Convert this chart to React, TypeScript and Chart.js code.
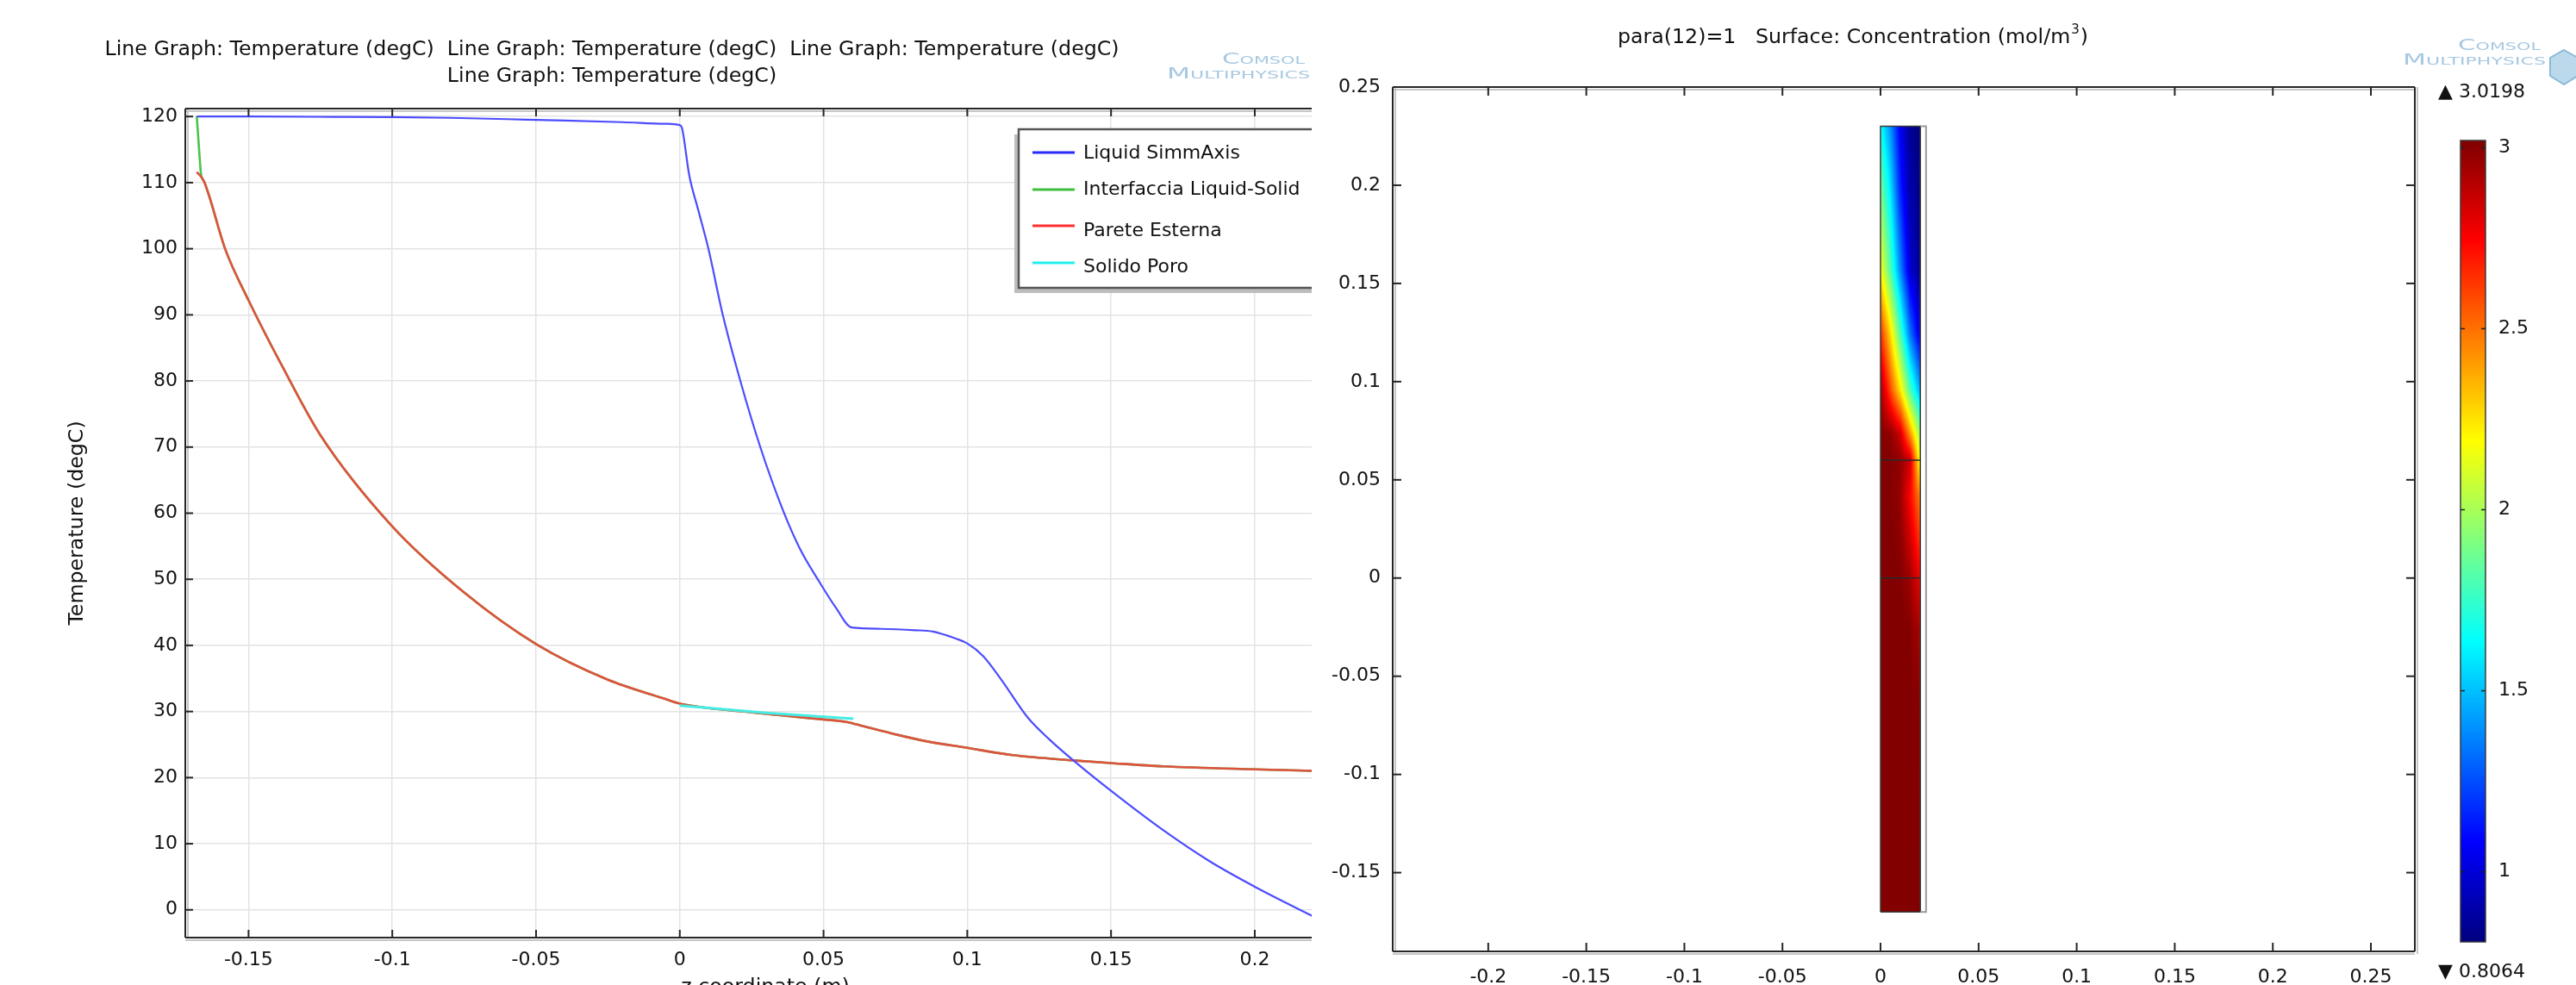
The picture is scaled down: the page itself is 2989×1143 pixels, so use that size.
import React, { useEffect, useRef } from "react";
import { Chart, registerables } from "chart.js";
Chart.register(...registerables);

const FONT = "'DejaVu Sans', 'Liberation Sans', Arial, sans-serif";
const W = 2989;
const H = 1143;
const LEFT_W = 1522;
const RIGHT_W = W - LEFT_W;

// ---------------- Left panel: temperature line graph ----------------
const leftTitleLine1 =
  "Line Graph: Temperature (degC)  Line Graph: Temperature (degC)  Line Graph: Temperature (degC)";
const leftTitleLine2 = "Line Graph: Temperature (degC)";
const leftXAxisTitle = "z coordinate (m)";
const leftYAxisTitle = "Temperature (degC)";
const leftXTicks = [-0.15, -0.1, -0.05, 0, 0.05, 0.1, 0.15, 0.2];
const leftYTicks = [0, 10, 20, 30, 40, 50, 60, 70, 80, 90, 100, 110, 120];

const seriesNames = ["Liquid SimmAxis", "Interfaccia Liquid-Solid", "Parete Esterna", "Solido Poro"];
const legendColors = ["#2a2aff", "#3fbf3f", "#ff2e2e", "#22eeee"];
const lineColors = ["rgb(76,76,255)", "rgb(74,196,74)", "rgb(224,82,62)", "rgb(70,236,228)"];
const drawOrder = [0, 3, 2, 1];

const liquidZ = [-0.168, -0.15, -0.12, -0.1, -0.08, -0.06, -0.04, -0.02, -0.005, 0.0, 0.0008, 0.0033, 0.0064,
  0.0099, 0.0149, 0.021, 0.028, 0.0361, 0.0417, 0.0487, 0.0543, 0.0598, 0.07, 0.082, 0.088, 0.0929, 0.0962, 0.1,
  0.1055, 0.1117, 0.1212, 0.1285, 0.1369, 0.15, 0.1683, 0.1841, 0.2, 0.2222];
const liquidT = [120.0, 120.0, 119.95, 119.9, 119.8, 119.6, 119.4, 119.15, 118.9, 118.7, 118.2, 111.1, 105.9,
  100.1, 90.1, 80.1, 70.0, 60.2, 54.7, 49.5, 45.7, 42.7, 42.5, 42.3, 42.1, 41.5, 41.0, 40.3,
  38.4, 34.9, 29.0, 25.8, 22.6, 18.0, 12.0, 7.4, 3.5, -1.4];

const interfaceZ = [-0.168, -0.1672, -0.1665, -0.1655, -0.158, -0.15, -0.138, -0.125, -0.1, -0.075, -0.05, -0.025,
  -0.0058, 0.0, 0.0247, 0.05, 0.0583, 0.0636, 0.0736, 0.0845, 0.1, 0.1159, 0.1369, 0.15, 0.1683, 0.2, 0.2222];
const interfaceT = [120.0, 115.0, 111.2, 110.2, 99.8, 92.2, 82.0, 71.8, 58.0, 48.0, 40.2, 34.8,
  32.0, 31.2, 29.9, 28.8, 28.4, 27.8, 26.7, 25.6, 24.5, 23.4, 22.6, 22.2, 21.7, 21.25, 21.0];

const wallZ = [-0.168, -0.1655, -0.158, -0.15, -0.138, -0.125, -0.1, -0.075, -0.05, -0.025, -0.0058, 0.0, 0.0247,
  0.05, 0.0583, 0.0636, 0.0736, 0.0845, 0.1, 0.1159, 0.1369, 0.15, 0.1683, 0.2, 0.2222];
const wallT = [111.6, 110.2, 99.8, 92.2, 82.0, 71.8, 58.0, 48.0, 40.2, 34.8, 32.0, 31.2, 29.9,
  28.8, 28.4, 27.8, 26.7, 25.6, 24.5, 23.4, 22.6, 22.2, 21.7, 21.25, 21.0];

const poreZ = [0.0, 0.03, 0.0604];
const poreT = [30.9, 29.8, 28.9];

// ---------------- Right panel: concentration surface ----------------
const rightTitleMain = "para(12)=1   Surface: Concentration (mol/m";
const rightTitleSup = "3";
const rightTitleEnd = ")";
const rightXTicks = [-0.2, -0.15, -0.1, -0.05, 0, 0.05, 0.1, 0.15, 0.2, 0.25];
const rightYTicks = [-0.15, -0.1, -0.05, 0, 0.05, 0.1, 0.15, 0.2, 0.25];

const fieldR = [0, 0.005, 0.01, 0.015, 0.0203];
const fieldZ = [0.23, 0.1978, 0.1568, 0.1246, 0.0954, 0.0734, 0.0602, 0.0416, 0.0, -0.0256, -0.06, -0.17];
const concentration = [
  [1.66, 1.4, 1.06, 0.85, 0.81],
  [1.9, 1.59, 1.16, 0.9, 0.82],
  [2.19, 1.82, 1.39, 0.99, 0.84],
  [2.65, 2.27, 1.81, 1.34, 1.0],
  [2.95, 2.6, 2.26, 1.82, 1.45],
  [3.01, 2.99, 2.85, 2.43, 1.95],
  [3.015, 3.01, 2.98, 2.85, 2.12],
  [3.015, 3.015, 2.97, 2.74, 2.46],
  [3.015, 3.015, 3.015, 2.95, 2.76],
  [3.015, 3.015, 3.015, 3.01, 2.92],
  [3.015, 3.015, 3.015, 3.015, 3.0],
  [3.015, 3.015, 3.015, 3.015, 3.015],
];
const colorMin = 0.8064;
const colorMax = 3.0198;
const colorbarTicks = [1, 1.5, 2, 2.5, 3];

const domainR = [0, 0.0203, 0.0203, 0, 0];
const domainZ = [-0.17, -0.17, 0.23, 0.23, -0.17];
const wallStripR = [0.0203, 0.0232, 0.0232, 0.0203];
const wallStripZ = [-0.17, -0.17, 0.23, 0.23];
const boundaryZ = [0.06, 0];
const boundaryR = [0, 0.0203];

// ---------------- helpers ----------------
const zip = (xs: number[], ys: number[]) => xs.map((x, i) => ({ x, y: ys[i] }));
const fmt = (v: number) => String(parseFloat(Number(v).toFixed(3)));
const clamp01 = (t: number) => (t < 0 ? 0 : t > 1 ? 1 : t);

function jet(v: number) {
  const t = clamp01((v - colorMin) / (colorMax - colorMin));
  const r = clamp01(1.5 - Math.abs(4 * t - 3));
  const g = clamp01(1.5 - Math.abs(4 * t - 2));
  const b = clamp01(1.5 - Math.abs(4 * t - 1));
  return [Math.round(r * 255), Math.round(g * 255), Math.round(b * 255)];
}

function sampleField(r: number, z: number) {
  let i = 0;
  while (i < fieldR.length - 2 && r > fieldR[i + 1]) i++;
  let j = 0;
  while (j < fieldZ.length - 2 && z < fieldZ[j + 1]) j++;
  const tr = clamp01((r - fieldR[i]) / (fieldR[i + 1] - fieldR[i]));
  const tz = clamp01((fieldZ[j] - z) / (fieldZ[j] - fieldZ[j + 1]));
  const a = concentration[j][i];
  const b = concentration[j][i + 1];
  const c = concentration[j + 1][i];
  const d = concentration[j + 1][i + 1];
  return (a * (1 - tr) + b * tr) * (1 - tz) + (c * (1 - tr) + d * tr) * tz;
}

function seg(ctx: CanvasRenderingContext2D, x1: number, y1: number, x2: number, y2: number) {
  ctx.beginPath();
  ctx.moveTo(x1, y1);
  ctx.lineTo(x2, y2);
  ctx.stroke();
}

function stretchedRight(ctx: CanvasRenderingContext2D, text: string, right: number, y: number, targetW: number) {
  const w = ctx.measureText(text).width;
  const s = targetW / w;
  ctx.save();
  ctx.translate(right - targetW, y);
  ctx.scale(s, 1);
  ctx.textAlign = "left";
  ctx.fillText(text, 0, 0);
  ctx.restore();
}

function drawLogo(ctx: CanvasRenderingContext2D, right: number, y1: number, y2: number) {
  ctx.save();
  ctx.fillStyle = "#a6c8e1";
  ctx.font = `small-caps 17px ${FONT}`;
  ctx.textBaseline = "middle";
  stretchedRight(ctx, "Comsol", right - 6, y1, 96);
  stretchedRight(ctx, "Multiphysics", right, y2, 166);
  ctx.restore();
}

function drawFrame(ctx: CanvasRenderingContext2D, ca: any, withRight: boolean) {
  ctx.save();
  ctx.lineWidth = 2;
  ctx.strokeStyle = "#c6c6c6";
  seg(ctx, ca.left, ca.top + 3, ca.right, ca.top + 3);
  seg(ctx, ca.left, ca.bottom + 3, ca.right, ca.bottom + 3);
  seg(ctx, ca.left + 3, ca.top, ca.left + 3, ca.bottom);
  if (withRight) seg(ctx, ca.right + 3, ca.top, ca.right + 3, ca.bottom + 3);
  ctx.strokeStyle = "#262626";
  seg(ctx, ca.left, ca.top, ca.right, ca.top);
  seg(ctx, ca.left, ca.bottom, ca.right, ca.bottom);
  seg(ctx, ca.left, ca.top, ca.left, ca.bottom);
  if (withRight) seg(ctx, ca.right, ca.top, ca.right, ca.bottom);
  ctx.restore();
}

function drawInwardTicks(chart: any, len: number, withRight: boolean) {
  const ctx = chart.ctx;
  const ca = chart.chartArea;
  const xs = chart.scales.x;
  const ys = chart.scales.y;
  ctx.save();
  ctx.lineWidth = 2;
  ctx.strokeStyle = "#262626";
  xs.ticks.forEach((t: any) => {
    const p = xs.getPixelForValue(t.value);
    seg(ctx, p, ca.bottom, p, ca.bottom - len);
    seg(ctx, p, ca.top, p, ca.top + len);
  });
  ys.ticks.forEach((t: any) => {
    const p = ys.getPixelForValue(t.value);
    seg(ctx, ca.left, p, ca.left + len, p);
    if (withRight) seg(ctx, ca.right, p, ca.right - len, p);
  });
  ctx.restore();
}

// ---------------- Left chart ----------------
const legendSwatchY = [177, 220, 262, 305];
const legendTextY = [178, 220, 268, 310];

const leftDecor = {
  id: "leftDecor",
  afterDraw(chart: any) {
    const ctx: CanvasRenderingContext2D = chart.ctx;
    const ca = chart.chartArea;
    drawFrame(ctx, ca, false);
    drawInwardTicks(chart, 9, false);

    ctx.save();
    ctx.fillStyle = "#111";
    ctx.font = `23.7px ${FONT}`;
    ctx.textAlign = "center";
    ctx.textBaseline = "middle";
    ctx.fillText(leftTitleLine1, 710, 58);
    ctx.fillText(leftTitleLine2, 710, 89);
    ctx.save();
    ctx.translate(90, 607);
    ctx.rotate(-Math.PI / 2);
    ctx.fillText(leftYAxisTitle, 0, 0);
    ctx.restore();
    ctx.textBaseline = "alphabetic";
    ctx.fillText(leftXAxisTitle, 888, 1152);

    // legend
    const x0 = 1182, y0 = 150, x1 = 1700, y1 = 334;
    ctx.fillStyle = "#bdbdbd";
    ctx.fillRect(x0 - 5, y0 + 6, x1 - x0, y1 - y0);
    ctx.fillStyle = "#ffffff";
    ctx.fillRect(x0, y0, x1 - x0, y1 - y0);
    ctx.lineWidth = 2.5;
    ctx.strokeStyle = "#555";
    ctx.strokeRect(x0, y0, x1 - x0, y1 - y0);
    ctx.font = `22px ${FONT}`;
    ctx.textAlign = "left";
    ctx.textBaseline = "middle";
    seriesNames.forEach((name, i) => {
      ctx.strokeStyle = legendColors[i];
      ctx.lineWidth = 3;
      seg(ctx, 1198, legendSwatchY[i], 1247, legendSwatchY[i]);
      ctx.fillStyle = "#111";
      ctx.fillText(name, 1257, legendTextY[i]);
    });
    ctx.restore();
    drawLogo(ctx, 1520, 70, 87);
  },
};

function leftConfig() {
  const sets = [zip(liquidZ, liquidT), zip(interfaceZ, interfaceT), zip(wallZ, wallT), zip(poreZ, poreT)];
  const widths = [2.2, 2.6, 2.6, 3];
  return {
    type: "scatter",
    data: {
      datasets: seriesNames.map((label, i) => ({
        label,
        data: sets[i],
        showLine: true,
        borderColor: lineColors[i],
        backgroundColor: lineColors[i],
        borderWidth: widths[i],
        pointRadius: 0,
        cubicInterpolationMode: "monotone",
        order: drawOrder[i],
      })),
    },
    options: {
      animation: false,
      responsive: false,
      events: [],
      layout: { padding: { top: 126, left: 0, right: 0, bottom: 0 } },
      plugins: { legend: { display: false }, tooltip: { enabled: false }, title: { display: false } },
      scales: {
        x: {
          type: "linear",
          position: "bottom",
          min: -0.172,
          max: 0.2198,
          afterBuildTicks: (s: any) => {
            s.ticks = leftXTicks.map((v) => ({ value: v }));
          },
          afterFit: (s: any) => {
            s.height = H - 1088;
          },
          grid: { color: "#e3e3e3", lineWidth: 1.5, drawTicks: false },
          border: { display: false },
          ticks: {
            padding: 13,
            color: "#111",
            font: { family: FONT, size: 22 },
            maxRotation: 0,
            autoSkip: false,
            callback: (v: number) => fmt(v),
          },
        },
        y: {
          type: "linear",
          position: "left",
          min: -4.2,
          max: 121.2,
          afterBuildTicks: (s: any) => {
            s.ticks = leftYTicks.map((v) => ({ value: v }));
          },
          afterFit: (s: any) => {
            s.width = 215;
          },
          grid: { color: "#e3e3e3", lineWidth: 1.5, drawTicks: false },
          border: { display: false },
          ticks: {
            padding: 9,
            color: "#111",
            font: { family: FONT, size: 22 },
            autoSkip: false,
            callback: (v: number) => fmt(v),
          },
        },
      },
    },
    plugins: [leftDecor],
  };
}

// ---------------- Right chart ----------------
const CB_LEFT = 2855 - LEFT_W;
const CB_RIGHT = 2884 - LEFT_W;
const CB_TOP = 163;
const CB_BOTTOM = 1093;
const cbPixel = (v: number) => CB_TOP + ((colorMax - v) / (colorMax - colorMin)) * (CB_BOTTOM - CB_TOP);

const rightDecor = {
  id: "rightDecor",
  beforeDatasetsDraw(chart: any) {
    const ctx: CanvasRenderingContext2D = chart.ctx;
    const xs = chart.scales.x;
    const ys = chart.scales.y;
    const px0 = Math.round(xs.getPixelForValue(fieldR[0]));
    const px1 = Math.round(xs.getPixelForValue(fieldR[fieldR.length - 1]));
    const py0 = Math.round(ys.getPixelForValue(fieldZ[0]));
    const py1 = Math.round(ys.getPixelForValue(fieldZ[fieldZ.length - 1]));
    const w = px1 - px0;
    const h = py1 - py0;
    if (w <= 0 || h <= 0) return;
    const img = ctx.createImageData(w, h);
    for (let j = 0; j < h; j++) {
      const z = ys.getValueForPixel(py0 + j + 0.5);
      for (let i = 0; i < w; i++) {
        const r = xs.getValueForPixel(px0 + i + 0.5);
        const [cr, cg, cb] = jet(sampleField(r, z));
        const k = (j * w + i) * 4;
        img.data[k] = cr;
        img.data[k + 1] = cg;
        img.data[k + 2] = cb;
        img.data[k + 3] = 255;
      }
    }
    ctx.putImageData(img, px0, py0);
  },
  afterDraw(chart: any) {
    const ctx: CanvasRenderingContext2D = chart.ctx;
    const ca = chart.chartArea;
    drawFrame(ctx, ca, true);
    drawInwardTicks(chart, 10, true);

    ctx.save();
    ctx.fillStyle = "#111";
    ctx.font = `23.7px ${FONT}`;
    ctx.textAlign = "left";
    ctx.textBaseline = "middle";
    let x = 1877 - LEFT_W;
    ctx.fillText(rightTitleMain, x, 44);
    x += ctx.measureText(rightTitleMain).width;
    ctx.font = `15px ${FONT}`;
    ctx.fillText(rightTitleSup, x + 1, 35);
    x += ctx.measureText(rightTitleSup).width + 2;
    ctx.font = `23.7px ${FONT}`;
    ctx.fillText(rightTitleEnd, x, 44);

    // colorbar
    for (let p = CB_TOP; p < CB_BOTTOM; p++) {
      const v = colorMax - ((p + 0.5 - CB_TOP) / (CB_BOTTOM - CB_TOP)) * (colorMax - colorMin);
      const [r, g, b] = jet(v);
      ctx.fillStyle = `rgb(${r},${g},${b})`;
      ctx.fillRect(CB_LEFT, p, CB_RIGHT - CB_LEFT, 1);
    }
    ctx.lineWidth = 1.5;
    ctx.strokeStyle = "#3a3a3a";
    ctx.strokeRect(CB_LEFT, CB_TOP, CB_RIGHT - CB_LEFT, CB_BOTTOM - CB_TOP);
    ctx.font = `22px ${FONT}`;
    ctx.fillStyle = "#111";
    ctx.textBaseline = "middle";
    colorbarTicks.forEach((v) => {
      const p = cbPixel(v);
      ctx.strokeStyle = "#222";
      ctx.lineWidth = 1.5;
      seg(ctx, CB_LEFT, p, CB_LEFT + 5, p);
      seg(ctx, CB_RIGHT, p, CB_RIGHT - 5, p);
      ctx.fillText(fmt(v), 2899 - LEFT_W, p);
    });
    ctx.fillText("\u25B2 " + colorMax.toFixed(4), 2829 - LEFT_W, 107);
    ctx.fillText("\u25BC " + colorMin.toFixed(4), 2829 - LEFT_W, 1128);
    ctx.restore();

    drawLogo(ctx, 2954 - LEFT_W, 54, 71);
    ctx.save();
    const cx = 2975 - LEFT_W, cy = 78;
    ctx.fillStyle = "#bcd9ec";
    ctx.strokeStyle = "#8dbad9";
    ctx.lineWidth = 2;
    ctx.beginPath();
    ctx.moveTo(cx, cy - 20);
    ctx.lineTo(cx + 16, cy - 11);
    ctx.lineTo(cx + 16, cy + 10);
    ctx.lineTo(cx, cy + 20);
    ctx.lineTo(cx - 16, cy + 10);
    ctx.lineTo(cx - 16, cy - 11);
    ctx.closePath();
    ctx.fill();
    ctx.stroke();
    ctx.restore();
  },
};

function rightConfig() {
  const datasets: any[] = [
    {
      label: "wall",
      data: zip(wallStripR, wallStripZ),
      showLine: true,
      borderColor: "#9a9a9a",
      borderWidth: 2,
      pointRadius: 0,
    },
    {
      label: "domain",
      data: zip(domainR, domainZ),
      showLine: true,
      borderColor: "#3a3a3a",
      borderWidth: 1.5,
      pointRadius: 0,
    },
    ...boundaryZ.map((z) => ({
      label: "boundary " + z,
      data: boundaryR.map((r) => ({ x: r, y: z })),
      showLine: true,
      borderColor: "#2a2a2a",
      borderWidth: 1.5,
      pointRadius: 0,
    })),
  ];
  return {
    type: "scatter",
    data: { datasets },
    options: {
      animation: false,
      responsive: false,
      events: [],
      layout: { padding: { top: 101, left: 0, right: RIGHT_W - (2802 - LEFT_W), bottom: 0 } },
      plugins: { legend: { display: false }, tooltip: { enabled: false }, title: { display: false } },
      scales: {
        x: {
          type: "linear",
          position: "bottom",
          min: -0.2487,
          max: 0.2724,
          afterBuildTicks: (s: any) => {
            s.ticks = rightXTicks.map((v) => ({ value: v }));
          },
          afterFit: (s: any) => {
            s.height = H - 1104;
          },
          grid: { display: false },
          border: { display: false },
          ticks: {
            padding: 9,
            color: "#111",
            font: { family: FONT, size: 22 },
            maxRotation: 0,
            autoSkip: false,
            callback: (v: number) => fmt(v),
          },
        },
        y: {
          type: "linear",
          position: "left",
          min: -0.1901,
          max: 0.25,
          afterBuildTicks: (s: any) => {
            s.ticks = rightYTicks.map((v) => ({ value: v }));
          },
          afterFit: (s: any) => {
            s.width = 1616 - LEFT_W;
          },
          grid: { display: false },
          border: { display: false },
          ticks: {
            padding: 6,
            color: "#111",
            font: { family: FONT, size: 22 },
            autoSkip: false,
            callback: (v: number) => fmt(v),
          },
        },
      },
    },
    plugins: [rightDecor],
  };
}

export default function App() {
  const leftRef = useRef<HTMLCanvasElement>(null);
  const rightRef = useRef<HTMLCanvasElement>(null);
  useEffect(() => {
    const c1 = new Chart(leftRef.current as HTMLCanvasElement, leftConfig() as any);
    const c2 = new Chart(rightRef.current as HTMLCanvasElement, rightConfig() as any);
    return () => {
      c1.destroy();
      c2.destroy();
    };
  }, []);
  return (
    <div
      style={{
        position: "absolute",
        left: 0,
        top: 0,
        width: W,
        height: H,
        background: "#ffffff",
        overflow: "hidden",
      }}
    >
      <canvas
        ref={leftRef}
        width={LEFT_W}
        height={H}
        style={{ position: "absolute", left: 0, top: 0, width: LEFT_W, height: H }}
      />
      <canvas
        ref={rightRef}
        width={RIGHT_W}
        height={H}
        style={{ position: "absolute", left: LEFT_W, top: 0, width: RIGHT_W, height: H }}
      />
    </div>
  );
}
